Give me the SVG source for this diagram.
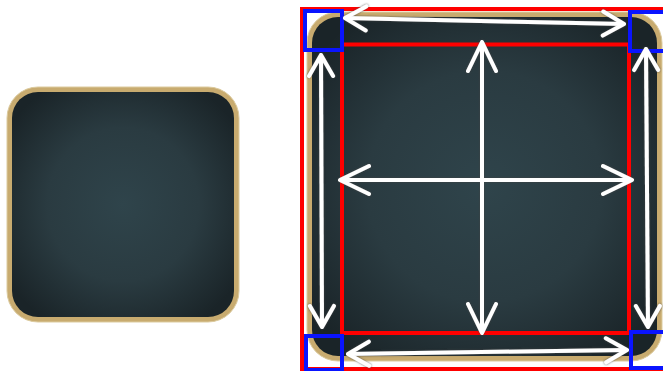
<svg xmlns="http://www.w3.org/2000/svg" width="663" height="371" viewBox="0 0 663 371">
  <style>
    .gold { fill: #c8ab6f; stroke: #dccb9f; stroke-width: 1; }
    .red { fill: none; stroke: #ff0000; stroke-width: 4; }
    .blue { fill: none; stroke: #0a14ff; stroke-width: 4; }
    .arrow { fill: none; stroke: #ffffff; stroke-width: 4; stroke-linecap: butt; }
    .big { marker-start: url(#head-big); marker-end: url(#head-big); }
    .small { marker-start: url(#head-small); marker-end: url(#head-small); }
  </style>
  <defs>
    <radialGradient id="panel" cx="50%" cy="50%" r="62%">
      <stop offset="0" stop-color="#2f444b"/>
      <stop offset="0.55" stop-color="#2a3b41"/>
      <stop offset="1" stop-color="#1a2428"/>
    </radialGradient>
    <filter id="shade" x="-10%" y="-10%" width="120%" height="120%">
      <feDropShadow dx="0" dy="0" stdDeviation="0.9" flood-color="#404040" flood-opacity="0.9"/>
    </filter>
    <marker id="head-big" viewBox="-32 -17 34 34" refX="0" refY="0" markerWidth="34" markerHeight="34" markerUnits="userSpaceOnUse" orient="auto-start-reverse">
      <path d="M-29,-14 L0,0 L-29,14" fill="none" stroke="#ffffff" stroke-width="4" stroke-linecap="round" stroke-linejoin="round"/>
    </marker>
    <marker id="head-small" viewBox="-26 -15 28 30" refX="0" refY="0" markerWidth="28" markerHeight="30" markerUnits="userSpaceOnUse" orient="auto-start-reverse">
      <path d="M-21,-12 L0,0 L-21,12" fill="none" stroke="#ffffff" stroke-width="4" stroke-linecap="round" stroke-linejoin="round"/>
    </marker>
  </defs>

  <rect width="663" height="371" fill="#ffffff"/>

  <g id="left-tile">
    <rect class="gold" x="7" y="87" width="232" height="235" rx="31"/>
    <rect x="12" y="92" width="222" height="225" rx="26" fill="url(#panel)"/>
  </g>

  <g id="right-tile">
    <rect class="gold" x="307" y="12" width="355" height="349" rx="31"/>
    <rect x="312" y="17" width="345" height="339" rx="26" fill="url(#panel)"/>
  </g>

  <g id="slices">
    <rect class="red" x="302" y="9" width="366" height="360"/>
    <rect class="red" x="342" y="44.5" width="287" height="288.5"/>
    <rect class="blue" x="305" y="11" width="37" height="39"/>
    <rect class="blue" x="630" y="12" width="40" height="39"/>
    <rect class="blue" x="306" y="336" width="36" height="34"/>
    <rect class="blue" x="631" y="332" width="40" height="36"/>
  </g>

  <g id="connectors" filter="url(#shade)">
    <line class="arrow big" x1="340" y1="180" x2="632" y2="180"/>
    <line class="arrow big" x1="482" y1="42" x2="482" y2="333"/>
    <line class="arrow small" x1="345" y1="18" x2="624" y2="24"/>
    <line class="arrow small" x1="348" y1="354" x2="627" y2="350"/>
    <line class="arrow small" x1="321" y1="55" x2="322" y2="327"/>
    <line class="arrow small" x1="646" y1="49" x2="648" y2="327"/>
  </g>
</svg>
